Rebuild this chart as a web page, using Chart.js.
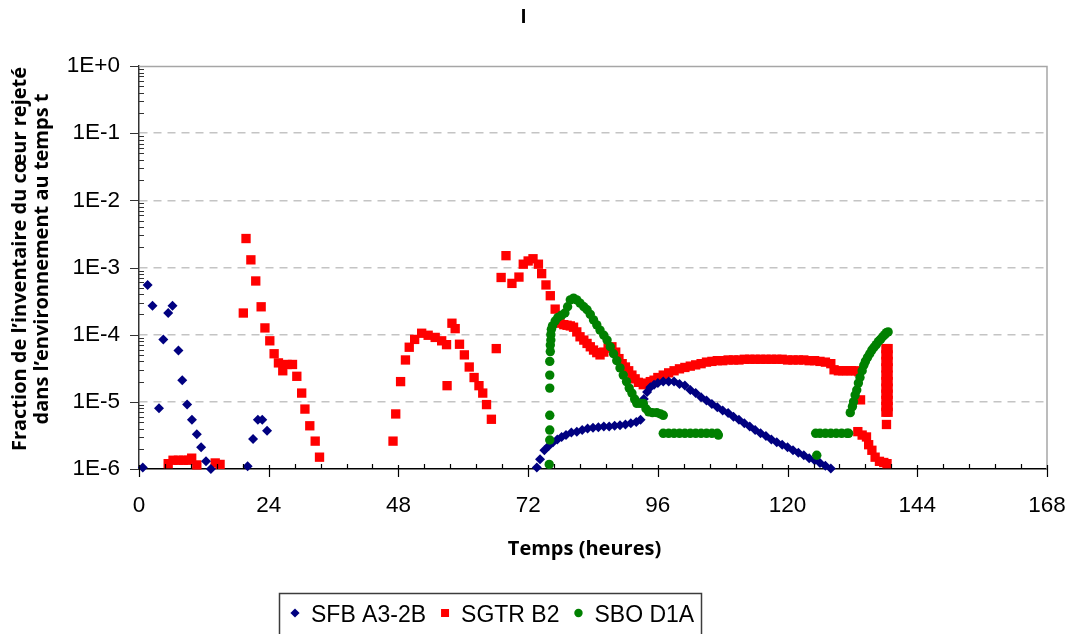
<!DOCTYPE html>
<html>
<head>
<meta charset="utf-8">
<script src="https://cdn.jsdelivr.net/npm/chart.js@4.4.1/dist/chart.umd.min.js"></script>
<style>
  html, body { margin: 0; padding: 0; background: #fff; }
  #wrap { width: 1070px; height: 634px; position: relative; }
</style>
</head>
<body>
<div id="wrap"><canvas id="chart" width="1070" height="634"></canvas></div>
<script>
// Release fraction of the core inventory vs. time (hours), three accident sequences.
const chartTitle = 'I';
const xTitle = 'Temps (heures)';
const yTitle = ['Fraction de l\u2019inventaire du c\u0153ur rejet\u00e9', 'dans l\u2019environnement au temps t'];
const seriesNames = ['SFB A3-2B', 'SGTR B2', 'SBO D1A'];
const xMax = 168;
const xMajorStep = 24;
const xMinorStep = 4.8;
const yMinExp = -6;
const yMaxExp = 0;

// [hour, fraction]
const sfbPoints = [
  [0.7, 1.05e-6], [1.6, 5.5e-4], [2.5, 2.7e-4], [3.7, 8.0e-6], [4.5, 8.5e-5], [5.4, 2.1e-4],
  [6.2, 2.7e-4], [7.3, 5.8e-5], [8.0, 2.1e-5], [8.9, 9.1e-6], [9.8, 5.4e-6], [10.7, 3.3e-6],
  [11.5, 2.1e-6], [12.4, 1.3e-6], [13.3, 1.0e-6],
  [20.1, 1.1e-6], [21.1, 2.8e-6], [22.0, 5.4e-6], [22.8, 5.4e-6], [23.7, 3.7e-6],
  [73.6, 1.05e-6], [74.2, 1.4e-6], [75.0, 1.9e-6], [75.8, 2.2e-6], [76.6, 2.5e-6], [77.4, 2.75e-6],
  [78.2, 3.0e-6], [79.0, 3.2e-6], [80, 3.5e-6], [81, 3.6e-6], [82, 3.8e-6], [83, 4.0e-6],
  [84, 4.1e-6], [85, 4.2e-6], [86, 4.3e-6], [87, 4.3e-6], [88, 4.4e-6], [89, 4.5e-6],
  [90, 4.6e-6], [91, 4.8e-6], [92, 5.0e-6], [92.8, 5.4e-6],
  [93.4, 1.1e-5], [94.0, 1.4e-5], [94.6, 1.65e-5], [95.3, 1.8e-5], [96, 1.9e-5], [97, 2.0e-5],
  [98, 2.0e-5], [99, 2.0e-5], [100, 1.85e-5], [101, 1.75e-5], [102, 1.5e-5], [103, 1.35e-5],
  [104, 1.17e-5], [105, 1.05e-5], [106, 9.3e-6], [107, 8.3e-6], [108, 7.4e-6], [109, 6.8e-6],
  [110, 6.0e-6], [111, 5.4e-6], [112, 4.8e-6], [113, 4.3e-6], [114, 3.8e-6], [115, 3.4e-6],
  [116, 3.1e-6], [117, 2.75e-6], [118, 2.5e-6], [119, 2.3e-6], [120, 2.1e-6], [121, 1.9e-6],
  [122, 1.75e-6], [123, 1.6e-6], [124, 1.45e-6], [125, 1.35e-6], [126, 1.23e-6], [127, 1.12e-6],
  [128, 1.02e-6]
];

const sgtrPoints = [
  [5.4, 1.2e-6], [6.3, 1.35e-6], [7.3, 1.35e-6], [8.2, 1.35e-6], [9.1, 1.35e-6], [9.75, 1.45e-6],
  [10.7, 1.15e-6], [14.1, 1.23e-6], [15.0, 1.17e-6],
  [19.3, 2.1e-4], [19.8, 2.7e-3], [20.7, 1.3e-3], [21.6, 6.3e-4], [22.6, 2.6e-4], [23.3, 1.26e-4],
  [24.2, 8.1e-5], [25.0, 5.2e-5], [25.8, 3.8e-5], [26.6, 2.9e-5], [27.4, 3.6e-5], [28.4, 3.6e-5],
  [29.2, 2.4e-5], [30.1, 1.35e-5], [30.7, 7.8e-6], [31.6, 4.4e-6], [32.6, 2.6e-6], [33.4, 1.5e-6],
  [47.0, 2.6e-6], [47.5, 6.6e-6], [48.4, 2.0e-5], [49.3, 4.2e-5], [50.0, 6.5e-5], [51.0, 8.5e-5],
  [52.3, 1.05e-4], [53.5, 9.8e-5], [54.8, 9.1e-5], [56.0, 8.1e-5], [56.9, 7.1e-5], [57.0, 1.74e-5],
  [57.9, 1.48e-4], [58.5, 1.23e-4], [59.3, 7.2e-5], [60.2, 5.0e-5], [61.1, 3.3e-5], [62.0, 2.3e-5],
  [62.9, 1.74e-5], [63.6, 1.35e-5], [64.3, 9.1e-6], [65.2, 5.5e-6], [66.1, 6.2e-5],
  [67.0, 7.1e-4], [67.9, 1.5e-3], [69.0, 5.8e-4], [70.3, 7.2e-4], [71.1, 1.12e-3], [72.0, 1.25e-3],
  [72.9, 1.35e-3], [73.9, 1.12e-3], [74.5, 8.1e-4], [75.3, 5.5e-4], [76.1, 3.8e-4], [77.0, 2.4e-4],
  [77.9, 1.48e-4], [78.6, 1.41e-4], [79.2, 1.38e-4], [79.8, 1.35e-4], [80.4, 1.29e-4], [81.0, 1.1e-4],
  [81.6, 9.3e-5], [82.3, 8.3e-5], [82.9, 7.4e-5], [83.5, 6.6e-5], [84.1, 5.9e-5], [84.7, 5.4e-5],
  [85.3, 5.0e-5], [86.0, 5.5e-5], [86.8, 6.3e-5], [87.5, 6.6e-5], [88.2, 5.5e-5], [88.8, 4.4e-5],
  [89.4, 3.7e-5], [90.0, 3.3e-5], [90.6, 2.9e-5], [91.2, 2.5e-5], [91.8, 2.2e-5], [92.4, 1.95e-5],
  [93.3, 1.8e-5], [94.0, 1.9e-5], [94.6, 2.0e-5], [95.3, 2.1e-5], [96, 2.3e-5], [97, 2.5e-5],
  [98, 2.7e-5], [99, 2.9e-5], [100, 3.1e-5], [101, 3.25e-5], [102, 3.4e-5], [103, 3.55e-5],
  [104, 3.7e-5], [105, 3.9e-5], [106, 4.0e-5], [107, 4.1e-5], [108, 4.1e-5], [109, 4.2e-5],
  [110, 4.2e-5], [111, 4.2e-5], [112, 4.3e-5], [113, 4.3e-5], [114, 4.3e-5], [115, 4.3e-5],
  [116, 4.3e-5], [117, 4.3e-5], [118, 4.3e-5], [119, 4.3e-5], [120, 4.2e-5], [121, 4.2e-5],
  [122, 4.2e-5], [123, 4.2e-5], [124, 4.1e-5], [125, 4.1e-5], [126, 4.0e-5], [127, 3.9e-5],
  [128, 3.7e-5], [128.6, 3.0e-5], [129.4, 2.9e-5], [130.2, 2.9e-5], [131.0, 2.9e-5], [131.8, 2.9e-5],
  [132.6, 2.9e-5], [133.2, 2.8e-5],
  [133.5, 1.07e-5], [133.0, 3.6e-6], [133.8, 3.2e-6], [134.6, 3.0e-6], [135.0, 2.3e-6], [135.6, 1.9e-6],
  [136.2, 1.5e-6], [137.0, 1.3e-6], [137.8, 1.25e-6], [138.4, 1.2e-6], [138.3, 4.6e-6],
  [138.2, 7.0e-6], [138.2, 8.5e-6], [138.2, 1.05e-5], [138.2, 1.3e-5], [138.2, 1.6e-5], [138.2, 2.0e-5],
  [138.2, 2.5e-5], [138.2, 3.2e-5], [138.2, 4.0e-5], [138.2, 5.0e-5], [138.2, 6.2e-5],
  [138.6, 7.0e-6], [138.6, 8.5e-6], [138.6, 1.05e-5], [138.6, 1.3e-5], [138.6, 1.6e-5], [138.6, 2.0e-5],
  [138.6, 2.5e-5], [138.6, 3.2e-5], [138.6, 4.0e-5], [138.6, 5.0e-5], [138.6, 6.2e-5]
];

const sboPoints = [
  [75.9, 1.17e-6], [76.0, 2.7e-6], [76.0, 3.8e-6], [76.0, 6.3e-6], [76.0, 1.6e-5], [76.0, 2.5e-5],
  [76.0, 4.0e-5], [76.1, 5.6e-5], [76.1, 7.0e-5], [76.2, 8.3e-5], [76.2, 1.0e-4], [76.3, 1.2e-4],
  [76.5, 1.35e-4], [77.0, 1.6e-4], [77.5, 1.8e-4], [78.2, 1.95e-4], [78.8, 2.1e-4], [79.3, 2.6e-4],
  [79.8, 3.3e-4], [80.4, 3.5e-4], [81.0, 3.3e-4], [81.6, 2.95e-4], [82.3, 2.6e-4], [82.9, 2.35e-4],
  [83.5, 2.0e-4], [84.1, 1.66e-4], [84.7, 1.4e-4], [85.3, 1.17e-4], [86.0, 9.8e-5], [86.6, 8.3e-5],
  [87.2, 6.6e-5], [87.8, 5.2e-5], [88.4, 4.1e-5], [89.0, 3.2e-5], [89.6, 2.5e-5], [90.2, 2.0e-5],
  [90.7, 1.6e-5], [91.2, 1.35e-5], [91.7, 1.1e-5], [92.1, 9.5e-6], [92.7, 9.5e-6], [93.3, 9.5e-6],
  [93.8, 7.9e-6], [94.3, 7.1e-6], [95.0, 6.9e-6], [95.8, 6.9e-6], [96.5, 6.6e-6], [97.0, 6.3e-6],
  [97.0, 3.4e-6], [98, 3.4e-6], [99, 3.4e-6], [100, 3.4e-6], [101, 3.4e-6], [102, 3.4e-6],
  [103, 3.4e-6], [104, 3.4e-6], [105, 3.4e-6], [106, 3.4e-6], [107, 3.4e-6], [107.2, 3.2e-6],
  [125.4, 1.6e-6], [125.2, 3.4e-6], [126, 3.4e-6], [127, 3.4e-6], [128, 3.4e-6], [129, 3.4e-6],
  [130, 3.4e-6], [131, 3.4e-6], [131.3, 3.4e-6],
  [131.6, 6.9e-6], [132.0, 8.5e-6], [132.2, 1.0e-5], [132.5, 1.26e-5], [132.8, 1.5e-5], [133.1, 1.9e-5],
  [133.4, 2.3e-5], [133.8, 2.9e-5], [134.1, 3.5e-5], [134.4, 4.0e-5], [134.8, 4.6e-5], [135.2, 5.2e-5],
  [135.6, 5.9e-5], [136.0, 6.5e-5], [136.4, 7.1e-5], [136.8, 7.9e-5], [137.2, 8.5e-5], [137.6, 9.3e-5],
  [138.0, 1.0e-4], [138.3, 1.07e-4], [138.6, 1.1e-4]
];

const toXY = (pts) => pts.map(([x, y]) => ({ x, y }));

const TICK_FONT = '"Liberation Sans", Arial, sans-serif';
const TITLE_FONT = '"Open Sans", "Noto Sans", sans-serif';

const isDecade = (v) => {
  const e = Math.log10(v);
  return Math.abs(e - Math.round(e)) < 1e-6;
};

// Tick marks (major crossing, minor inside) and the grey frame on top/right
const axisDecor = {
  id: 'axisDecor',
  afterDraw(chart) {
    const { ctx, chartArea: a, scales: { x, y } } = chart;
    ctx.save();
    ctx.strokeStyle = '#a6a6a6';
    ctx.lineWidth = 1.5;
    ctx.beginPath();
    ctx.moveTo(a.left, a.top + 0.5);
    ctx.lineTo(a.right, a.top + 0.5);
    ctx.lineTo(a.right, a.bottom);
    ctx.stroke();

    ctx.strokeStyle = '#000';
    ctx.lineWidth = 1.2;
    ctx.beginPath();
    for (let i = 0; i * xMinorStep <= xMax + 1e-9; i++) {
      const v = i * xMinorStep;
      const px = Math.round(x.getPixelForValue(v)) + 0.5;
      const major = Math.abs(v / xMajorStep - Math.round(v / xMajorStep)) < 1e-6;
      ctx.moveTo(px, a.bottom - (major ? 4 : 5));
      ctx.lineTo(px, a.bottom + (major ? 8 : 0));
    }
    ctx.stroke();

    ctx.strokeStyle = '#333';
    ctx.beginPath();
    for (let e = yMinExp; e <= yMaxExp; e++) {
      const py = Math.round(y.getPixelForValue(Math.pow(10, e))) + 0.5;
      ctx.moveTo(a.left - 9, py);
      ctx.lineTo(a.left, py);
      if (e < yMaxExp) {
        for (let k = 2; k <= 9; k++) {
          const pm = Math.round(y.getPixelForValue(k * Math.pow(10, e))) + 0.5;
          ctx.moveTo(a.left, pm);
          ctx.lineTo(a.left + 5, pm);
        }
      }
    }
    ctx.stroke();
    ctx.restore();
  }
};

// Axis titles: bold, x title under the tick labels, y title as two rotated lines
const axisTitles = {
  id: 'axisTitles',
  afterDraw(chart) {
    const { ctx } = chart;
    ctx.save();
    ctx.fillStyle = '#000';
    ctx.font = 'bold 20px ' + TITLE_FONT;
    ctx.textAlign = 'center';
    ctx.textBaseline = 'middle';
    ctx.fillText(xTitle, 584.5, 549);
    ctx.translate(0, 259);
    ctx.rotate(-Math.PI / 2);
    yTitle.forEach((line, i) => ctx.fillText(line, 0, 20 + i * 22.5));
    ctx.restore();
  }
};

// Boxed legend under the axis title
const boxLegend = {
  id: 'boxLegend',
  afterDraw(chart) {
    const { ctx } = chart;
    const boxLeft = 279, boxTop = 593, cy = 613, base = 621.5;
    ctx.save();
    ctx.font = '23px ' + TICK_FONT;
    ctx.textBaseline = 'alphabetic';
    ctx.textAlign = 'left';
    let x = boxLeft + 16;
    let end = x;
    chart.data.datasets.forEach((ds) => {
      ctx.fillStyle = ds.backgroundColor;
      ctx.beginPath();
      if (ds.pointStyle === 'rectRot') {
        const r = 4.6;
        ctx.moveTo(x - r, cy); ctx.lineTo(x, cy - r); ctx.lineTo(x + r, cy); ctx.lineTo(x, cy + r);
        ctx.closePath();
      } else if (ds.pointStyle === 'rect') {
        ctx.rect(x - 4, cy - 4, 8, 8);
      } else {
        ctx.arc(x, cy, 4.2, 0, Math.PI * 2);
      }
      ctx.fill();
      ctx.fillStyle = '#000';
      const tx = x + 16;
      ctx.fillText(ds.label, tx, base);
      end = tx + ctx.measureText(ds.label).width;
      x = end + 19;
    });
    ctx.strokeStyle = '#3c3c3c';
    ctx.lineWidth = 1.5;
    ctx.strokeRect(boxLeft + 0.5, boxTop + 0.5, Math.round(end + 7 - boxLeft), 60);
    ctx.restore();
  }
};

new Chart(document.getElementById('chart'), {
  type: 'scatter',
  data: {
    datasets: [
      { label: seriesNames[0], data: toXY(sfbPoints), pointStyle: 'rectRot', pointRadius: 5,
        backgroundColor: '#000080', borderColor: '#000080', pointBorderWidth: 0, order: 2, clip: false },
      { label: seriesNames[1], data: toXY(sgtrPoints), pointStyle: 'rect', pointRadius: 6.6,
        backgroundColor: '#ff0000', borderColor: '#ff0000', pointBorderWidth: 0, order: 3, clip: false },
      { label: seriesNames[2], data: toXY(sboPoints), pointStyle: 'circle', pointRadius: 4.7,
        backgroundColor: '#008000', borderColor: '#008000', pointBorderWidth: 0, order: 1, clip: false }
    ]
  },
  options: {
    responsive: false,
    animation: false,
    devicePixelRatio: 1,
    layout: { autoPadding: false, padding: { left: 0, right: 23, top: 0, bottom: 0 } },
    plugins: {
      legend: { display: false },
      tooltip: { enabled: false },
      title: {
        display: true, text: chartTitle, color: '#000',
        font: { family: TICK_FONT, size: 20, weight: 'bold', lineHeight: 1.2 },
        padding: { top: 5, bottom: 37 }
      }
    },
    scales: {
      x: {
        type: 'linear', min: 0, max: xMax,
        afterFit: (s) => { s.height = 165; s.paddingLeft = 0; s.paddingRight = 0; },
        ticks: { stepSize: xMajorStep, color: '#000', padding: 23, maxRotation: 0, autoSkip: false,
          font: { family: TICK_FONT, size: 22.5 } },
        grid: { display: false, drawTicks: false },
        border: { display: true, color: '#000', width: 1.5 }
      },
      y: {
        type: 'logarithmic', min: Math.pow(10, yMinExp), max: Math.pow(10, yMaxExp),
        afterFit: (s) => { s.width = 139; s.paddingTop = 0; s.paddingBottom = 0; },
        ticks: {
          color: '#000', padding: 19, autoSkip: false,
          font: { family: TICK_FONT, size: 22.5 },
          callback: (v) => {
            if (!isDecade(v)) return '';
            const e = Math.round(Math.log10(v));
            return '1E' + (e >= 0 ? '+' : '') + e;
          }
        },
        grid: {
          drawTicks: false, lineWidth: 1.5,
          color: (c) => {
            const v = c.tick && c.tick.value;
            if (!v || !isDecade(v)) return 'rgba(0,0,0,0)';
            const e = Math.round(Math.log10(v));
            return (e === yMinExp || e === yMaxExp) ? 'rgba(0,0,0,0)' : '#c4c4c4';
          }
        },
        border: { display: true, color: '#333', width: 1.5, dash: [8, 6] }
      }
    }
  },
  plugins: [axisDecor, axisTitles, boxLegend]
});
</script>
</body>
</html>
